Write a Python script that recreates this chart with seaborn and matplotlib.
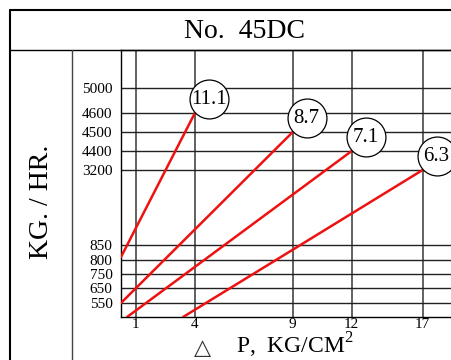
import matplotlib
matplotlib.use("Agg")
import matplotlib.pyplot as plt
from matplotlib.lines import Line2D
from matplotlib import transforms
import numpy as np
import pandas as pd
import seaborn as sns

# ============================================================
# DATA
# ============================================================

TITLE = "No.  45DC"
X_TICKS = [1, 4, 9, 12, 17]
Y_TICKS = [550, 650, 750, 800, 850, 3200, 4400, 4500, 4600, 5000]

SERIES = ["11.1", "8.7", "7.1", "6.3"]
X_START = [0.24, 0.24, 0.55, 3.4]
Y_START = [810, 550, 450, 450]
X_END = [4, 9, 12, 17]
Y_END = [4600, 4500, 4400, 3200]

# ============================================================
# SCALES (the chart is schematic: ticks are not evenly spaced)
# ============================================================

X_BREAKS = [0, 1, 4, 9, 12, 17, 19]
X_UNITS = [-4.7, 15, 74, 172, 231, 302, 330.4]
Y_BREAKS = [450, 550, 650, 750, 800, 850, 3200, 4400, 4500, 4600, 5000, 5600]
Y_UNITS = [0, 14, 29, 43, 57, 72, 147, 166, 185, 204, 229, 267]


def x_fwd(v):
    return np.interp(v, X_BREAKS, X_UNITS)


def x_inv(p):
    return np.interp(p, X_UNITS, X_BREAKS)


def y_fwd(v):
    return np.interp(v, Y_BREAKS, Y_UNITS)


def y_inv(p):
    return np.interp(p, Y_UNITS, Y_BREAKS)


rows = []
for name, x0, y0, x1, y1 in zip(SERIES, X_START, Y_START, X_END, Y_END):
    rows.append({"series": name, "dp": x0, "flow": y0})
    rows.append({"series": name, "dp": x1, "flow": y1})
df = pd.DataFrame(rows)

# ============================================================
# PLOT
# ============================================================

sns.set_theme(style="white")
plt.rcParams["font.family"] = ["Liberation Serif", "DejaVu Sans"]
plt.rcParams["mathtext.fontset"] = "custom"
plt.rcParams["mathtext.rm"] = "Liberation Serif"

W, H = 451, 360
fig = plt.figure(figsize=(W / 100, H / 100), dpi=100)
ax = fig.add_axes([121 / W, (H - 317) / H, 330 / W, 267 / H])

ax.set_xscale("function", functions=(x_fwd, x_inv))
ax.set_yscale("function", functions=(y_fwd, y_inv))
ax.set_xlim(0.24, 19)
ax.set_ylim(450, 5600)

ax.set_xticks(X_TICKS)
ax.set_xticklabels([str(t) for t in X_TICKS])
ax.set_yticks(Y_TICKS)
ax.set_yticklabels([str(t) for t in Y_TICKS])
ax.minorticks_off()

for x in X_TICKS:
    ax.axvline(x, color="#555555", lw=1.3, zorder=1)
for y in Y_TICKS:
    ax.axhline(y, color="#222222", lw=1.0, zorder=1)

sns.lineplot(data=df, x="dp", y="flow", units="series", estimator=None,
             color="#ee1111", lw=1.8, sort=False, ax=ax, zorder=3)

# circled labels, offset up-right from the end of each line
label_tr = transforms.offset_copy(ax.transData, fig=fig, x=10, y=10, units="points")
for name, x1, y1 in zip(SERIES, X_END, Y_END):
    ax.plot([x1], [y1], marker="o", ms=28, mfc="white", mec="black", mew=0.9,
            transform=label_tr, zorder=4, clip_on=False)
    ax.text(x1, y1, name, transform=label_tr, ha="center", va="center",
            fontsize=15, color="black", zorder=5, clip_on=False)

ax.tick_params(axis="both", length=0, labelsize=11, labelcolor="black")
ax.tick_params(axis="y", pad=6)
ax.tick_params(axis="x", pad=1)
ax.set_ylabel("")
ax.set_xlabel("")

for side in ["left", "bottom", "top"]:
    ax.spines[side].set_color("black")
    ax.spines[side].set_linewidth(1.0)
ax.spines["right"].set_visible(False)

# frame of the table around the chart
frame = dict(color="black", lw=1.5, transform=fig.transFigure)
fig.add_artist(Line2D([10 / W, 1], [1 - 10 / H, 1 - 10 / H], **frame))
fig.add_artist(Line2D([10 / W, 10 / W], [0, 1 - 10 / H], **frame))
fig.add_artist(Line2D([10 / W, 1], [1 - 50 / H, 1 - 50 / H], color="black", lw=1.0,
                      transform=fig.transFigure))
fig.add_artist(Line2D([72 / W, 72 / W], [0, 1 - 50 / H], color="#444444", lw=1.0,
                      transform=fig.transFigure))

fig.text(244 / W, 1 - 32 / H, TITLE, fontsize=20, ha="center", va="center", color="black")
fig.text(42 / W, 1 - 202 / H, "KG. / HR.", fontsize=20, rotation=90,
         ha="center", va="center", color="black")

# x axis title: triangle in DejaVu Sans, the rest in serif
fig.text(202 / W, 1 - 354 / H, "△", fontsize=16, family="DejaVu Sans",
         ha="center", va="baseline", color="#333333")
fig.text(236 / W, 1 - 354 / H, "P,  KG/CM$^2$", fontsize=17,
         ha="left", va="baseline", color="black")

fig.savefig("out.png", dpi=100)
